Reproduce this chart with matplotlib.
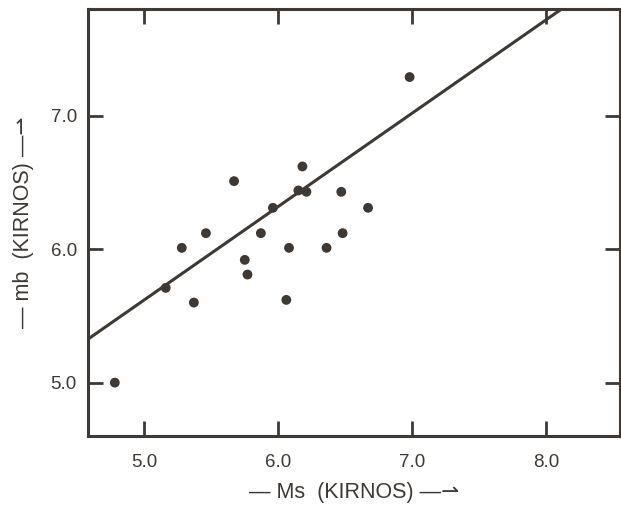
import matplotlib
matplotlib.use("Agg")
import matplotlib.pyplot as plt
import numpy as np

ms = [5.16, 5.28, 5.37, 5.46, 5.67, 5.75, 5.77, 5.87, 5.96, 6.06,
      6.08, 6.15, 6.21, 6.18, 6.36, 6.47, 6.48, 6.67, 6.98, 4.78]
mb = [5.71, 6.01, 5.60, 6.12, 6.51, 5.92, 5.81, 6.12, 6.31, 5.62,
      6.01, 6.44, 6.43, 6.62, 6.01, 6.43, 6.12, 6.31, 7.29, 5.00]

fit_slope = 0.70
fit_intercept = 2.12

x_ticks = [5.0, 6.0, 7.0, 8.0]
y_ticks = [5.0, 6.0, 7.0]

ink = "#3e3934"
plt.rcParams["font.family"] = ["Liberation Sans", "DejaVu Sans"]

fig = plt.figure(figsize=(6.21, 5.07), dpi=100)
ax = fig.add_axes([88/621, 1-436/507, (620-88)/621, (436-9)/507])

xlim = (4.58, 8.55)
ylim = (4.60, 7.80)

xx = np.array(xlim)
ax.plot(xx, fit_slope*xx + fit_intercept, color=ink, lw=2.2, solid_capstyle="butt")
ax.scatter(ms, mb, s=50, color=ink, zorder=3, edgecolors="none")

ax.set_xlim(*xlim)
ax.set_ylim(*ylim)
ax.set_xticks(x_ticks)
ax.set_yticks(y_ticks)
ax.set_xticklabels([f"{v:.1f}" for v in x_ticks])
ax.set_yticklabels([f"{v:.1f}" for v in y_ticks])

for s in ax.spines.values():
    s.set_color(ink)
    s.set_linewidth(2.2)

ax.tick_params(direction="in", length=11, width=2.0, color=ink,
               top=True, right=True, labelsize=13.5, labelcolor=ink)
ax.tick_params(axis="x", pad=13)
ax.tick_params(axis="y", pad=8)

ax.set_xlabel("— Ms  (KIRNOS) —⇀", fontsize=15.5, color=ink, labelpad=8)
ax.set_ylabel("— mb  (KIRNOS) —⇀", fontsize=15.5, color=ink, labelpad=12)

fig.savefig("out.png", dpi=100, facecolor="white")
